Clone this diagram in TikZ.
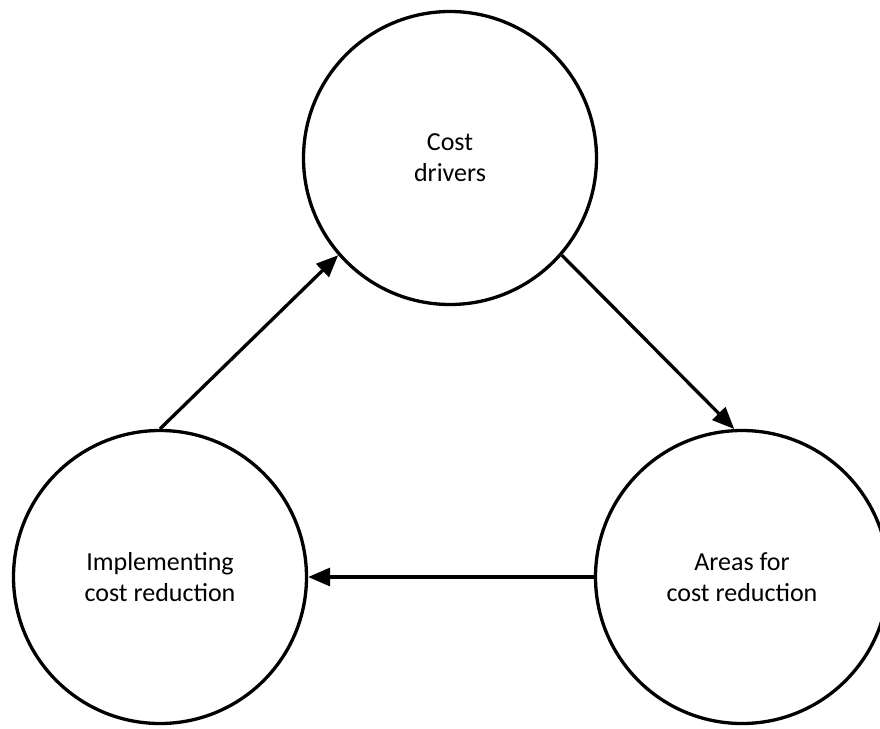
\documentclass[tikz,border=0pt]{standalone}
\usepackage{fontspec}
\setmainfont{Carlito}
\usetikzlibrary{arrows.meta}
\begin{document}
\begin{tikzpicture}[x=1pt, y=-1pt, >={Triangle[length=22pt,width=18pt]}, line width=3.3pt,
  stage/.style={draw, circle, minimum size=293pt, inner sep=0pt, align=center, font=\fontsize{26}{31}\selectfont}]
\useasboundingbox (0,0) rectangle (880,728);
\node[stage](drivers) at (450,158) {Cost\\drivers};
\node[stage](areas) at (742,577) {Areas for\\cost reduction};
\node[stage](impl) at (160,577) {Implementing\\cost reduction};
\draw[->](drivers.-41)--(areas.93);
\draw[->](areas.west)--(impl.east);
\draw[->](impl.north)--(drivers.221);
\end{tikzpicture}
\end{document}
